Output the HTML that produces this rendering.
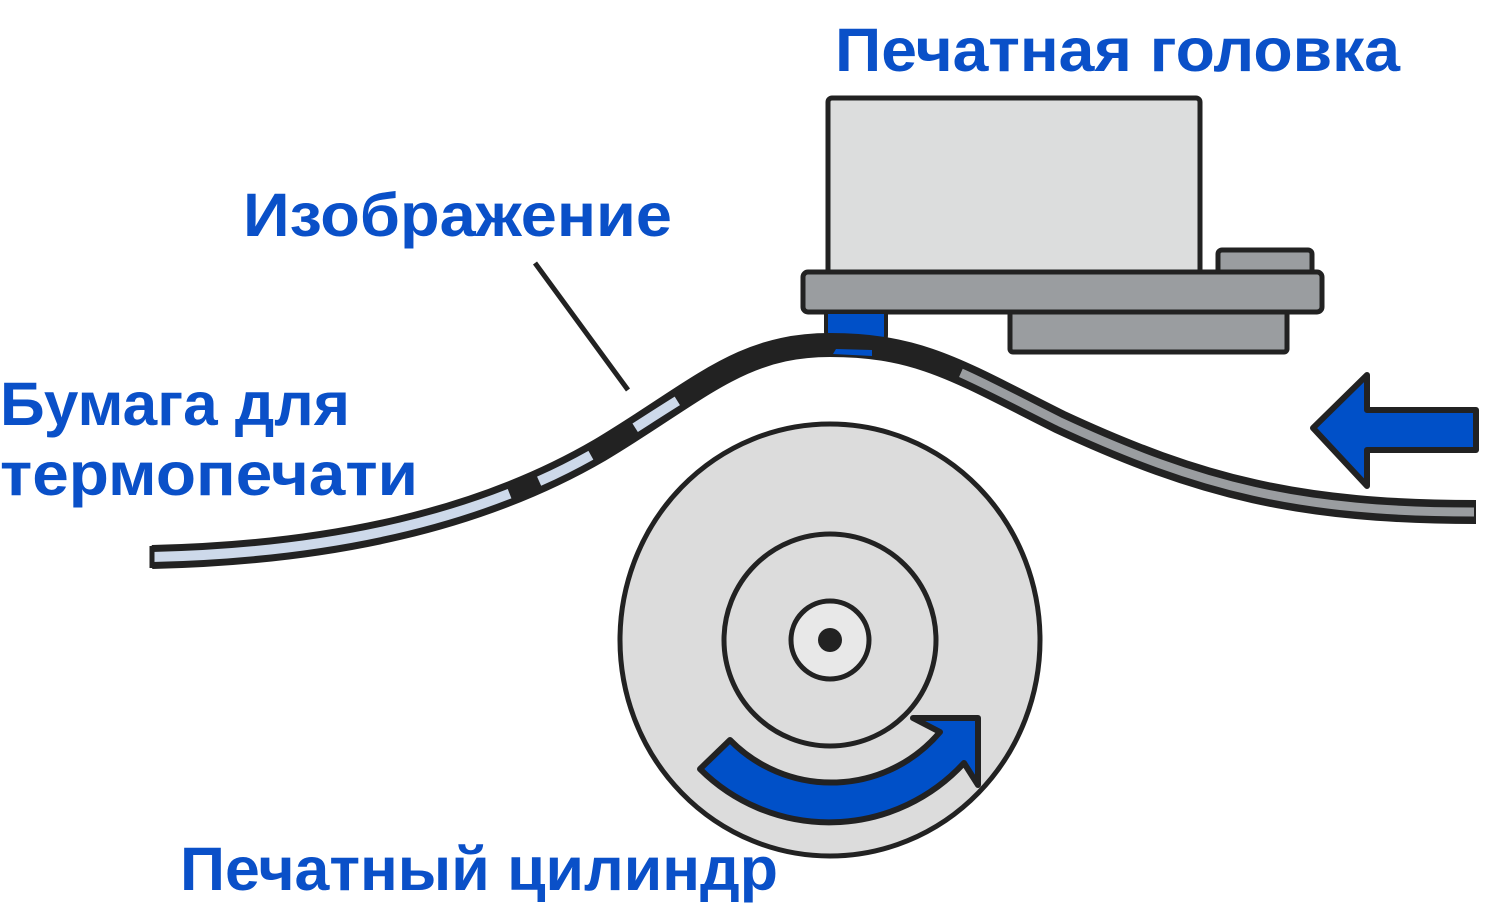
<!DOCTYPE html>
<html><head><meta charset="utf-8"><style>
html,body{margin:0;padding:0;background:#fff;}
svg{display:block}
text{font-family:"Liberation Sans","DejaVu Sans",sans-serif;font-weight:bold;fill:#0a50c8;}
</style></head><body>
<svg width="1506" height="920" viewBox="0 0 1506 920" xmlns="http://www.w3.org/2000/svg">
<!-- cylinder -->
<ellipse cx="830" cy="640" rx="210" ry="216" fill="#dcdcdc" stroke="#222" stroke-width="5"/>
<circle cx="830" cy="640" r="106" fill="#dcdcdc" stroke="#222" stroke-width="5"/>
<circle cx="830" cy="640" r="39" fill="#e8e8e8" stroke="#222" stroke-width="5"/>
<circle cx="830" cy="640" r="12" fill="#222"/>
<!-- curved arrow -->
<path d="M700,769 A183,183 0 0 0 964,763 L978,785 L978,718 L913,718 L940,732 A142,142 0 0 1 730,740 Z" fill="#0050c8" stroke="#222" stroke-width="6" stroke-linejoin="round"/>
<!-- head -->
<rect x="828" y="98" width="372" height="176" rx="4" fill="#dcdddd" stroke="#222" stroke-width="5"/>
<rect x="1218" y="250" width="94" height="24" rx="4" fill="#9a9da0" stroke="#222" stroke-width="5"/>
<rect x="1010" y="310" width="277" height="42" rx="3" fill="#9a9da0" stroke="#222" stroke-width="5"/>
<rect x="803" y="272" width="519" height="40" rx="5" fill="#9a9da0" stroke="#222" stroke-width="5"/>
<path d="M826,312 L886,312 L886,335 Q886,345 876,345 L836,343 Q826,340 826,332 Z" fill="#0050c8" stroke="#222" stroke-width="4"/>
<!-- paper -->
<path d="M152,557 C330,553 480,520 600,450 C700,390 740,345 830,345 C920,345 960,372 1060,422 C1200,487 1300,512 1476,512" fill="none" stroke="#222" stroke-width="24"/>
<path d="M152,557 C330,553 480,520 600,450 C640,425 670,405 692,392" fill="none" stroke="#cdd9ea" stroke-width="10" stroke-dasharray="365 32 58 52 50 1000"/>
<path d="M830,345 C920,345 960,372 1060,422 C1200,487 1300,512 1474,512" fill="none" stroke="#9a9da0" stroke-width="9" stroke-dasharray="0 135 2000"/>
<path d="M152,546 L152,568" stroke="#222" stroke-width="5"/>
<path d="M836,349 L872,350 L872,356 L833,354 Z" fill="#0050c8"/>
<!-- leader -->
<line x1="535" y1="263" x2="628" y2="390" stroke="#222" stroke-width="5"/>
<!-- right arrow -->
<polygon points="1313,428 1367,375 1367,410 1476,410 1476,450 1367,450 1367,486" fill="#0050c8" stroke="#222" stroke-width="6" stroke-linejoin="round"/>
<!-- labels -->
<text x="835" y="71" font-size="61" textLength="565" lengthAdjust="spacingAndGlyphs">Печатная головка</text>
<text x="243" y="236" font-size="61" textLength="429" lengthAdjust="spacingAndGlyphs">Изображение</text>
<text x="0" y="425" font-size="61" textLength="350" lengthAdjust="spacingAndGlyphs">Бумага для</text>
<text x="0" y="495" font-size="61" textLength="418" lengthAdjust="spacingAndGlyphs">термопечати</text>
<text x="180" y="890" font-size="61" textLength="598" lengthAdjust="spacingAndGlyphs">Печатный цилиндр</text>
</svg>
</body></html>
